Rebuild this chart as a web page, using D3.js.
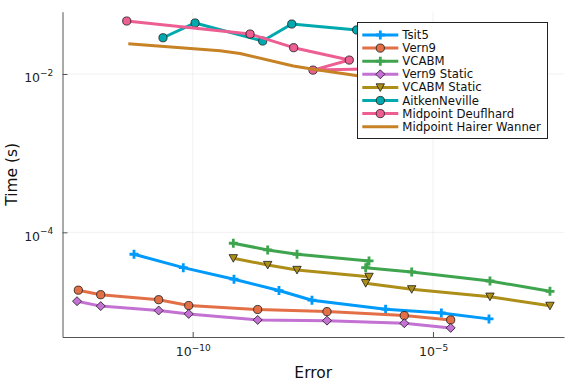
<!DOCTYPE html>
<html><head><meta charset="utf-8">
<script src="https://cdn.jsdelivr.net/npm/d3@7"></script>
<style>body{margin:0;background:#fff}svg{display:block}text{font-family:"DejaVu Sans",sans-serif}</style>
</head><body><svg id="c" width="576" height="384"></svg>
<script>
const names = ["Tsit5","Vern9","VCABM","Vern9 Static","VCABM Static","AitkenNeville","Midpoint Deuflhard","Midpoint Hairer Wanner"];
const colors = ["#009AFA","#E36F47","#3EA44E","#C371D2","#AC8E18","#00A9AD","#ED5E93","#C68225"];
const markers = ["cross","circle","cross","diamond","dtriangle","circle","circle","none"];

const tsit5Err  = [6.01e-12, 6.37e-11, 7.23e-10, 6.24e-9, 3.03e-8, 1.03e-6, 1.49e-5, 1.46e-4];
const tsit5Time = [5.29e-5, 3.58e-5, 2.56e-5, 1.84e-5, 1.39e-5, 1.07e-5, 9.6e-6, 8.07e-6];
const vern9Err  = [4.17e-13, 1.22e-12, 1.96e-11, 8.26e-11, 2.25e-9, 6.22e-8, 2.52e-6, 2.33e-5];
const vern9Time = [1.86e-5, 1.63e-5, 1.41e-5, 1.19e-5, 1.06e-5, 9.97e-6, 8.88e-6, 7.83e-6];
const vcabmErr  = [7.0e-10, 3.63e-9, 1.48e-8, 4.66e-7, 3.97e-7, 3.60e-6, 1.53e-4, 2.71e-3];
const vcabmTime = [7.28e-5, 6.0e-5, 5.29e-5, 4.35e-5, 3.58e-5, 3.16e-5, 2.43e-5, 1.80e-5];
const vern9sErr  = [3.92e-13, 1.22e-12, 1.96e-11, 8.26e-11, 2.25e-9, 6.22e-8, 2.52e-6, 2.33e-5];
const vern9sTime = [1.35e-5, 1.17e-5, 1.03e-5, 9.33e-6, 7.83e-6, 7.67e-6, 7.11e-6, 6.21e-6];
const vcabmsErr  = [7.0e-10, 3.63e-9, 1.48e-8, 4.66e-7, 3.97e-7, 3.60e-6, 1.53e-4, 2.71e-3];
const vcabmsTime = [4.71e-5, 3.87e-5, 3.35e-5, 2.74e-5, 2.28e-5, 1.91e-5, 1.54e-5, 1.18e-5];
const aitkenErr  = [2.41e-11, 1.12e-10, 2.86e-9, 1.15e-8, 2.58e-7];
const aitkenTime = [0.0287, 0.0441, 0.0261, 0.0428, 0.0360];
const deufErr  = [4.24e-12, 1.56e-9, 1.26e-8, 1.81e-7, 3.18e-8, 5.36e-6];
const deufTime = [0.0467, 0.0320, 0.0215, 0.0150, 0.0112, 0.0119];
const hwErr  = [4.57e-12, 3.70e-10, 9.64e-10, 1.24e-8, 3.23e-8, 2.71e-7, 8.65e-6];
const hwTime = [0.0241, 0.0197, 0.0182, 0.0126, 0.0115, 0.00952, 0.00706];

const xTickVals = [1e-10, 1e-5];
const xTickExp = ["\u221210", "\u22125"];
const yTickVals = [1e-2, 1e-4];
const yTickExp = ["\u22122", "\u22124"];

const errs = [tsit5Err, vern9Err, vcabmErr, vern9sErr, vcabmsErr, aitkenErr, deufErr, hwErr];
const times = [tsit5Time, vern9Time, vcabmTime, vern9sTime, vcabmsTime, aitkenTime, deufTime, hwTime];

const L = 62.5, R = 564, T = 11.7, B = 337;
const x = d3.scaleLog().domain([Math.pow(10,-12.709), Math.pow(10,-2.275)]).range([L, R]);
const y = d3.scaleLog().domain([Math.pow(10,-5.322), Math.pow(10,-1.213)]).range([B, T]);

const svg = d3.select("#c");

// grid
const grid = svg.append("g");
grid.selectAll("line.vx").data(xTickVals).enter().append("line")
  .attr("x1", d => x(d)).attr("x2", d => x(d)).attr("y1", T).attr("y2", B)
  .attr("stroke", "#000").attr("stroke-opacity", 0.1).attr("stroke-width", 0.6);
grid.selectAll("line.hy").data(yTickVals).enter().append("line")
  .attr("y1", d => y(d)).attr("y2", d => y(d)).attr("x1", L).attr("x2", R)
  .attr("stroke", "#000").attr("stroke-opacity", 0.1).attr("stroke-width", 0.6);

// axes
const xAxis = d3.axisBottom(x).tickValues(xTickVals).tickFormat(() => "").tickSizeInner(-5).tickSizeOuter(0);
const yAxis = d3.axisLeft(y).tickValues(yTickVals).tickFormat(() => "").tickSizeInner(-5).tickSizeOuter(0);
const gx = svg.append("g").attr("transform", `translate(0,${B})`).call(xAxis);
const gy = svg.append("g").attr("transform", `translate(${L},0)`).call(yAxis);
[gx, gy].forEach(g => {
  g.select(".domain").attr("stroke", "#555").attr("stroke-width", 1);
  g.selectAll(".tick line").attr("stroke", "#555").attr("stroke-width", 1);
});
gx.selectAll(".tick").each(function(d, i) {
  const t = d3.select(this).append("text").attr("fill", "#222").attr("text-anchor", "middle")
    .attr("y", 19).attr("font-size", 12.5);
  t.append("tspan").text("10");
  t.append("tspan").attr("dy", -5).attr("font-size", 9).text(xTickExp[i]);
});
gy.selectAll(".tick").each(function(d, i) {
  const t = d3.select(this).append("text").attr("fill", "#222").attr("text-anchor", "end")
    .attr("x", -9.2).attr("y", 7.7).attr("font-size", 12.5);
  t.append("tspan").text("10");
  t.append("tspan").attr("dy", -6.5).attr("font-size", 9).text(yTickExp[i]);
});

// axis titles
svg.append("text").attr("x", (L + R) / 2).attr("y", 372.7).attr("text-anchor", "middle")
  .attr("dominant-baseline", "central").attr("font-size", 15.5).attr("fill", "#111").text("Error");
svg.append("text").attr("transform", `translate(11.7,${(T + B) / 2}) rotate(-90)`).attr("text-anchor", "middle")
  .attr("dominant-baseline", "central").attr("font-size", 15.5).attr("fill", "#111").text("Time (s)");

function drawMarker(g, type, color) {
  if (type === "cross") {
    g.append("path").attr("d", "M-4.5,0H4.5M0,-4.5V4.5").attr("stroke", color).attr("stroke-width", 2.8).attr("fill", "none");
  } else if (type === "circle") {
    g.append("circle").attr("r", 4.1).attr("fill", color).attr("stroke", "#1a1a1a").attr("stroke-width", 0.8);
  } else if (type === "diamond") {
    g.append("path").attr("d", "M0,-4.5L4.5,0L0,4.5L-4.5,0Z").attr("fill", color).attr("stroke", "#1a1a1a").attr("stroke-width", 0.8);
  } else if (type === "dtriangle") {
    g.append("path").attr("d", "M-4.2,-3.6L4.2,-3.6L0,4Z").attr("fill", color).attr("stroke", "#1a1a1a").attr("stroke-width", 0.8);
  }
}

const line = d3.line().x(d => x(d[0])).y(d => y(d[1]));
names.forEach((n, i) => {
  const pts = errs[i].map((e, j) => [e, times[i][j]]);
  const g = svg.append("g");
  g.append("path").attr("d", line(pts)).attr("fill", "none").attr("stroke", colors[i])
    .attr("stroke-width", 3).attr("stroke-linejoin", "round");
  if (markers[i] !== "none") {
    pts.forEach(p => {
      const mg = g.append("g").attr("transform", `translate(${x(p[0])},${y(p[1])})`);
      drawMarker(mg, markers[i], colors[i]);
    });
  }
});

// legend
const lg = svg.append("g");
lg.append("rect").attr("x", 357.5).attr("y", 22.5).attr("width", 190).attr("height", 116)
  .attr("fill", "#fff").attr("stroke", "#222").attr("stroke-width", 1);
names.forEach((n, i) => {
  const yy = 35 + i * 13.1;
  lg.append("line").attr("x1", 362.3).attr("x2", 398.3).attr("y1", yy).attr("y2", yy)
    .attr("stroke", colors[i]).attr("stroke-width", 3);
  if (markers[i] !== "none") {
    const mg = lg.append("g").attr("transform", `translate(380.3,${yy})`);
    drawMarker(mg, markers[i], colors[i]);
  }
  lg.append("text").attr("x", 402.3).attr("y", yy).attr("dominant-baseline", "central")
    .attr("font-size", 11.7).attr("fill", "#111").text(n);
});
</script></body></html>
